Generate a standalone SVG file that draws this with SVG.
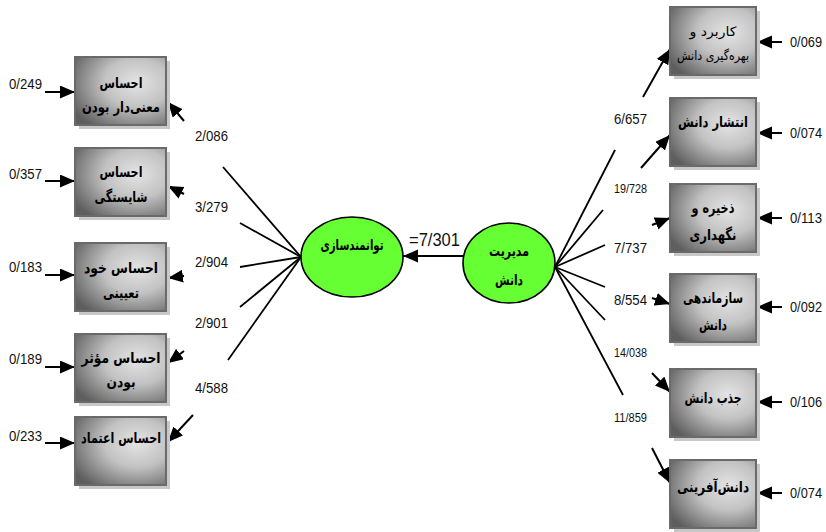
<svg xmlns="http://www.w3.org/2000/svg" width="826" height="532" viewBox="0 0 826 532">
  <style>
    .num { font-family: "Liberation Sans Narrow", "Liberation Sans", Arial, sans-serif; font-size: 15px; fill: #111; }
    .sm { font-size: 13px; }
    .big { font-size: 19px; }
    .fa { font-family: "DejaVu Sans", "Noto Sans", sans-serif; font-size: 15px; font-weight: bold; fill: #000; text-anchor: middle; }
    .fa-r { font-weight: normal; font-size: 13px; }
    .box { fill: url(#boxFill); stroke: #6a6a6a; stroke-width: 2; }
    .shadow { fill: #c8c8c8; }
    .hub { fill: #66ff33; stroke: #000; stroke-width: 1.6; }
    .ln { stroke: #000; stroke-width: 1.8; fill: none; }
    .ar { stroke: #000; stroke-width: 2; fill: none; marker-end: url(#head); }
  </style>
  <defs>
    <radialGradient id="boxFill" cx="0.68" cy="0.38" r="0.8">
      <stop offset="0" stop-color="#e4e4e4"/>
      <stop offset="0.45" stop-color="#c2c2c2"/>
      <stop offset="1" stop-color="#5e5e5e"/>
    </radialGradient>
    <marker id="head" markerUnits="userSpaceOnUse" markerWidth="16" markerHeight="14" refX="15" refY="6.5" orient="auto">
      <path d="M0,0 L15,6.5 L0,13 z" fill="#000"/>
    </marker>
  </defs>

  <rect width="826" height="532" fill="#fff"/>

  <!-- connectors -->
  <g id="connectors">
    <!-- left fan -->
    <line class="ln" x1="301" y1="257" x2="223" y2="167"/>
    <line class="ar" x1="184" y1="121" x2="168" y2="102"/>
    <line class="ln" x1="301" y1="257" x2="240" y2="223"/>
    <line class="ar" x1="184" y1="194" x2="168" y2="186"/>
    <line class="ln" x1="301" y1="257" x2="240" y2="267"/>
    <line class="ar" x1="184" y1="276" x2="168" y2="278"/>
    <line class="ln" x1="301" y1="257" x2="240" y2="307"/>
    <line class="ar" x1="184" y1="351" x2="168" y2="363"/>
    <line class="ln" x1="301" y1="257" x2="228" y2="360"/>
    <line class="ar" x1="193" y1="415" x2="168" y2="442"/>
    <!-- right fan -->
    <line class="ln" x1="555" y1="267" x2="615" y2="150"/>
    <line class="ar" x1="643" y1="97" x2="670" y2="49"/>
    <line class="ln" x1="555" y1="267" x2="603" y2="210"/>
    <line class="ar" x1="641" y1="168" x2="670" y2="135"/>
    <line class="ln" x1="555" y1="267" x2="605" y2="245"/>
    <line class="ar" x1="652" y1="225" x2="670" y2="218"/>
    <line class="ln" x1="555" y1="267" x2="605" y2="287"/>
    <line class="ar" x1="652" y1="298" x2="670" y2="304"/>
    <line class="ln" x1="555" y1="267" x2="605" y2="320"/>
    <line class="ar" x1="652" y1="373" x2="670" y2="392"/>
    <line class="ln" x1="555" y1="267" x2="623" y2="395"/>
    <line class="ar" x1="652" y1="448" x2="670" y2="483"/>
    <!-- hub to hub -->
    <line class="ar" x1="463" y1="256" x2="403" y2="256"/>
    <!-- error terms, left -->
    <line class="ar" x1="45" y1="92" x2="75" y2="92"/>
    <line class="ar" x1="45" y1="181" x2="75" y2="181"/>
    <line class="ar" x1="45" y1="275" x2="75" y2="275"/>
    <line class="ar" x1="45" y1="367" x2="75" y2="367"/>
    <line class="ar" x1="45" y1="443" x2="75" y2="443"/>
    <!-- error terms, right -->
    <line class="ar" x1="782" y1="42" x2="757" y2="42"/>
    <line class="ar" x1="782" y1="133" x2="757" y2="133"/>
    <line class="ar" x1="782" y1="218" x2="757" y2="218"/>
    <line class="ar" x1="782" y1="307" x2="757" y2="307"/>
    <line class="ar" x1="782" y1="402" x2="757" y2="402"/>
    <line class="ar" x1="782" y1="493" x2="757" y2="493"/>
  </g>

  <!-- path coefficients -->
  <g id="coefficients">
    <text class="num" x="195" y="141" textLength="33" lengthAdjust="spacingAndGlyphs">2/086</text>
    <text class="num" x="195" y="212" textLength="33" lengthAdjust="spacingAndGlyphs">3/279</text>
    <text class="num" x="195" y="267" textLength="33" lengthAdjust="spacingAndGlyphs">2/904</text>
    <text class="num" x="195" y="328" textLength="33" lengthAdjust="spacingAndGlyphs">2/901</text>
    <text class="num" x="195" y="393" textLength="33" lengthAdjust="spacingAndGlyphs">4/588</text>
    <text class="num" x="614" y="124" textLength="33" lengthAdjust="spacingAndGlyphs">6/657</text>
    <text class="num sm" x="614" y="193" textLength="33" lengthAdjust="spacingAndGlyphs">19/728</text>
    <text class="num" x="614" y="253" textLength="33" lengthAdjust="spacingAndGlyphs">7/737</text>
    <text class="num" x="614" y="305" textLength="33" lengthAdjust="spacingAndGlyphs">8/554</text>
    <text class="num sm" x="614" y="357" textLength="33" lengthAdjust="spacingAndGlyphs">14/038</text>
    <text class="num sm" x="614" y="422" textLength="33" lengthAdjust="spacingAndGlyphs">11/859</text>
    <text class="num big" x="409" y="246" textLength="51" lengthAdjust="spacingAndGlyphs">=7/301</text>
  </g>

  <!-- error values -->
  <g id="errors">
    <text class="num" x="9" y="89" textLength="33" lengthAdjust="spacingAndGlyphs">0/249</text>
    <text class="num" x="9" y="179" textLength="33" lengthAdjust="spacingAndGlyphs">0/357</text>
    <text class="num" x="9" y="272" textLength="33" lengthAdjust="spacingAndGlyphs">0/183</text>
    <text class="num" x="9" y="364" textLength="33" lengthAdjust="spacingAndGlyphs">0/189</text>
    <text class="num" x="9" y="441" textLength="33" lengthAdjust="spacingAndGlyphs">0/233</text>
    <text class="num" x="790" y="47" textLength="32" lengthAdjust="spacingAndGlyphs">0/069</text>
    <text class="num" x="790" y="138" textLength="32" lengthAdjust="spacingAndGlyphs">0/074</text>
    <text class="num" x="790" y="223" textLength="32" lengthAdjust="spacingAndGlyphs">0/113</text>
    <text class="num" x="790" y="312" textLength="32" lengthAdjust="spacingAndGlyphs">0/092</text>
    <text class="num" x="790" y="407" textLength="32" lengthAdjust="spacingAndGlyphs">0/106</text>
    <text class="num" x="790" y="498" textLength="32" lengthAdjust="spacingAndGlyphs">0/074</text>
  </g>

  <!-- latent variables -->
  <g id="empowerment">
    <ellipse class="hub" cx="352" cy="257" rx="51" ry="40"/>
    <text class="fa" x="352" y="250" textLength="63" lengthAdjust="spacingAndGlyphs">توانمندسازی</text>
  </g>
  <g id="knowledge-management">
    <ellipse class="hub" cx="509" cy="263" rx="46" ry="40"/>
    <text class="fa" x="509" y="256" textLength="40" lengthAdjust="spacingAndGlyphs">مدیریت</text>
    <text class="fa" x="509" y="285" textLength="28" lengthAdjust="spacingAndGlyphs">دانش</text>
  </g>

  <!-- indicators, left -->
  <g id="meaning">
    <rect class="shadow" x="79" y="61" width="91" height="68"/>
    <rect class="box" x="75" y="57" width="91" height="68"/>
    <text class="fa" x="121" y="88" textLength="43" lengthAdjust="spacingAndGlyphs">احساس</text>
    <text class="fa" x="121" y="112" textLength="78" lengthAdjust="spacingAndGlyphs">معنی‌دار بودن</text>
  </g>
  <g id="competence">
    <rect class="shadow" x="79" y="152" width="91" height="68"/>
    <rect class="box" x="75" y="148" width="91" height="68"/>
    <text class="fa" x="121" y="177" textLength="43" lengthAdjust="spacingAndGlyphs">احساس</text>
    <text class="fa" x="121" y="202" textLength="53" lengthAdjust="spacingAndGlyphs">شایستگی</text>
  </g>
  <g id="self-determination">
    <rect class="shadow" x="79" y="247" width="91" height="68"/>
    <rect class="box" x="75" y="243" width="91" height="68"/>
    <text class="fa" x="121" y="273" textLength="74" lengthAdjust="spacingAndGlyphs">احساس خود</text>
    <text class="fa" x="121" y="298" textLength="36" lengthAdjust="spacingAndGlyphs">تعیینی</text>
  </g>
  <g id="impact">
    <rect class="shadow" x="79" y="338" width="91" height="68"/>
    <rect class="box" x="75" y="334" width="91" height="68"/>
    <text class="fa" x="121" y="363" textLength="79" lengthAdjust="spacingAndGlyphs">احساس مؤثر</text>
    <text class="fa" x="121" y="387" textLength="29" lengthAdjust="spacingAndGlyphs">بودن</text>
  </g>
  <g id="trust">
    <rect class="shadow" x="79" y="421" width="91" height="68"/>
    <rect class="box" x="75" y="417" width="91" height="68"/>
    <text class="fa" x="121" y="443" textLength="80" lengthAdjust="spacingAndGlyphs">احساس اعتماد</text>
  </g>

  <!-- indicators, right -->
  <g id="application">
    <rect class="shadow" x="674" y="11" width="86" height="68"/>
    <rect class="box" x="670" y="7" width="86" height="68"/>
    <text class="fa fa-r" x="713" y="36" textLength="47" lengthAdjust="spacingAndGlyphs">کاربرد و</text>
    <text class="fa fa-r" x="713" y="60" textLength="72" lengthAdjust="spacingAndGlyphs">بهره‌گیری دانش</text>
  </g>
  <g id="dissemination">
    <rect class="shadow" x="674" y="102" width="86" height="68"/>
    <rect class="box" x="670" y="98" width="86" height="68"/>
    <text class="fa" x="713" y="127" textLength="70" lengthAdjust="spacingAndGlyphs">انتشار دانش</text>
  </g>
  <g id="storage">
    <rect class="shadow" x="674" y="188" width="86" height="68"/>
    <rect class="box" x="670" y="184" width="86" height="68"/>
    <text class="fa" x="713" y="213" textLength="43" lengthAdjust="spacingAndGlyphs">ذخیره و</text>
    <text class="fa" x="713" y="240" textLength="47" lengthAdjust="spacingAndGlyphs">نگهداری</text>
  </g>
  <g id="organization">
    <rect class="shadow" x="674" y="278" width="86" height="68"/>
    <rect class="box" x="670" y="274" width="86" height="68"/>
    <text class="fa" x="713" y="303" textLength="60" lengthAdjust="spacingAndGlyphs">سازماندهی</text>
    <text class="fa" x="713" y="330" textLength="28" lengthAdjust="spacingAndGlyphs">دانش</text>
  </g>
  <g id="acquisition">
    <rect class="shadow" x="674" y="373" width="86" height="68"/>
    <rect class="box" x="670" y="369" width="86" height="68"/>
    <text class="fa" x="713" y="403" textLength="57" lengthAdjust="spacingAndGlyphs">جذب دانش</text>
  </g>
  <g id="creation">
    <rect class="shadow" x="674" y="464" width="86" height="68"/>
    <rect class="box" x="670" y="460" width="86" height="68"/>
    <text class="fa" x="713" y="492" textLength="72" lengthAdjust="spacingAndGlyphs">دانش‌آفرینی</text>
  </g>
</svg>
